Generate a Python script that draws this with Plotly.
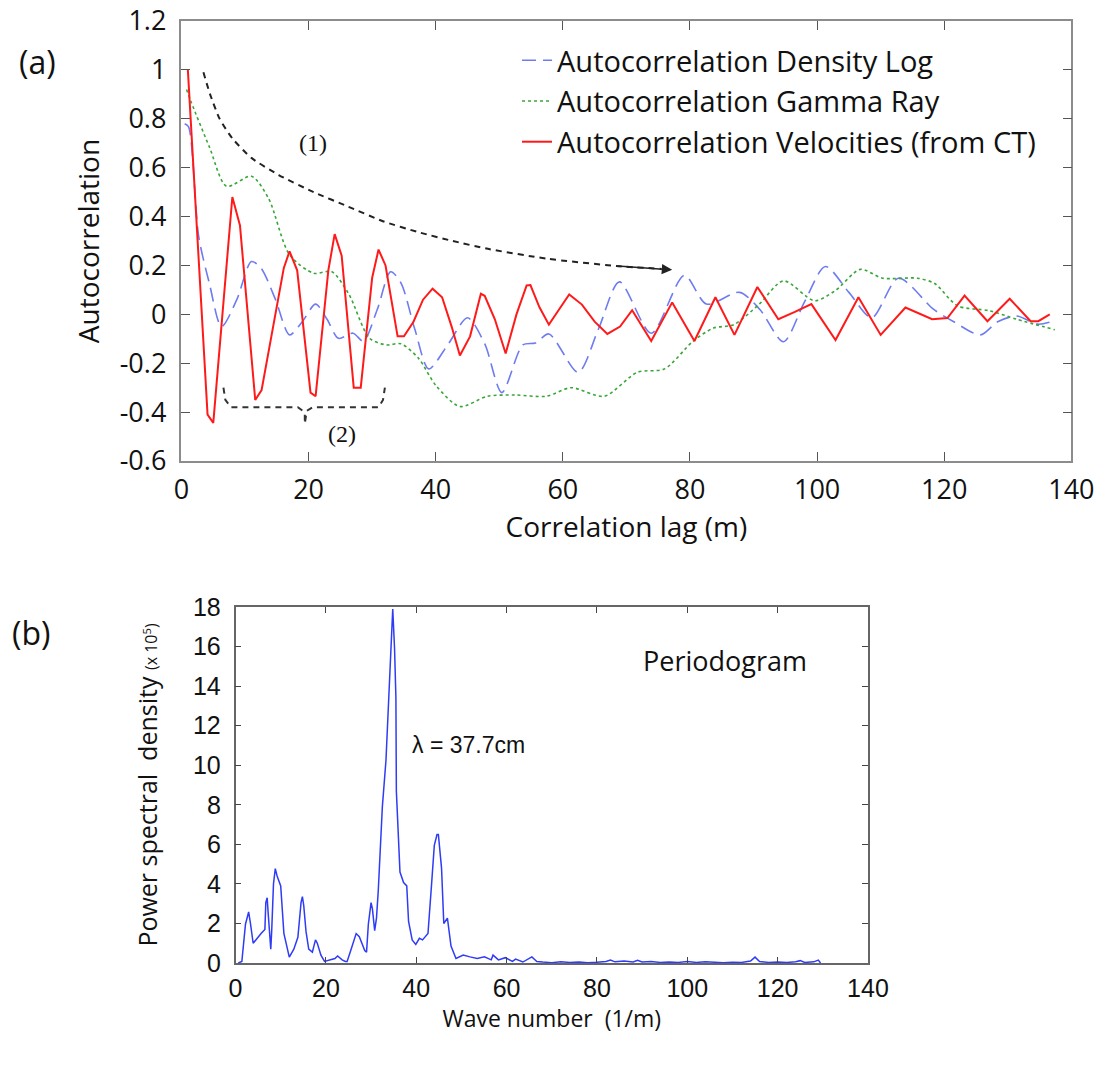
import plotly.graph_objects as go

# ---------------- (a) autocorrelation data ----------------
vel_x = [1.0, 4.1, 5.0, 8.0, 9.2, 11.6, 12.6, 16.1, 17.0, 18.2, 20.3, 21.1, 23.1, 24.1, 25.2,
         27.1, 28.2, 30.0, 31.0, 32.1, 34.0, 35.0, 36.5, 38.0, 39.5, 41.0, 42.5, 43.8, 45.4, 47.1,
         47.7, 49.3, 51.0, 52.7, 54.3, 54.9, 56.3, 57.8, 59.4, 61.0, 63.0, 65.0, 67.0, 69.0, 70.9,
         73.9, 77.2, 80.7, 84.0, 87.0, 90.6, 93.9, 96.5, 99.1, 102.9, 106.5, 110.0, 113.9, 118.1,
         120.5, 123.2, 126.8, 130.3, 133.6, 134.8, 136.6]
vel_y = [1.0, -0.41, -0.444, 0.48, 0.364, -0.35, -0.31, 0.19, 0.258, 0.18, -0.32, -0.335, 0.18,
         0.328, 0.24, -0.30, -0.30, 0.15, 0.265, 0.20, -0.09, -0.09, -0.03, 0.06, 0.105, 0.07,
         -0.05, -0.168, -0.09, 0.084, 0.076, -0.02, -0.16, 0.0, 0.118, 0.12, 0.03, -0.042, 0.02,
         0.081, 0.04, -0.03, -0.08, -0.05, 0.017, -0.109, 0.049, -0.109, 0.07, -0.084, 0.112,
         -0.02, 0.01, 0.042, -0.105, 0.07, -0.084, 0.028, -0.02, -0.015, 0.077, -0.028, 0.064,
         -0.028, -0.028, 0.0]

dens_x = [0.5, 1.1, 2.7, 4.4, 6.3, 8.7, 11.0, 12.5, 14.8, 17.0, 19.0, 21.1, 22.9, 24.7, 27.0,
          28.6, 30.8, 32.9, 34.5, 36.7, 38.9, 42.0, 45.0, 47.7, 50.4, 53.7, 55.7, 57.8, 62.4,
          65.6, 68.9, 73.9, 79.1, 82.6, 87.8, 91.0, 94.7, 98.0, 101.3, 105.0, 108.6, 112.8, 118.3,
          121.5, 125.7, 128.4, 131.4, 134.7, 136.9]
dens_y = [0.78, 0.768, 0.32, 0.125, -0.05, 0.06, 0.216, 0.19, 0.06, -0.084, -0.03, 0.042, -0.02,
          -0.098, -0.077, -0.11, 0.02, 0.174, 0.13, -0.06, -0.223, -0.12, -0.014, -0.12, -0.32,
          -0.125, -0.117, -0.08, -0.237, -0.06, 0.133, -0.077, 0.16, 0.042, 0.09, 0.02, -0.112,
          0.05, 0.196, 0.09, -0.014, 0.148, 0.021, -0.03, -0.084, -0.03, -0.007, -0.04, -0.03]

gamma_x = [0.8, 1.5, 4.4, 7.1, 11.0, 13.7, 17.0, 20.8, 23.6, 26.3, 29.6, 32.3, 34.5, 37.3, 40.0,
           43.8, 48.1, 52.6, 57.4, 61.3, 66.5, 71.7, 76.0, 80.4, 83.7, 86.9, 90.9, 94.7, 99.6,
           102.9, 106.8, 110.3, 115.8, 118.5, 122.1, 127.1, 131.4, 137.4]
gamma_y = [0.92, 0.87, 0.684, 0.524, 0.565, 0.474, 0.244, 0.168, 0.175, 0.084, -0.098, -0.125,
           -0.12, -0.18, -0.29, -0.377, -0.335, -0.33, -0.335, -0.30, -0.335, -0.237, -0.223,
           -0.112, -0.056, -0.042, 0.042, 0.137, 0.056, 0.098, 0.184, 0.148, 0.148, 0.126, 0.035,
           0.015, -0.02, -0.063]

# guide (1): decaying envelope arrow, guide (2): bracket
env_x = [3.45, 4.5, 6.0, 8.0, 11.0, 15.3, 20.8, 26.3, 31.8, 37.3, 42.7, 48.2, 57.4, 68.4, 75.5]
env_y = [0.99, 0.90, 0.80, 0.72, 0.64, 0.57, 0.50, 0.44, 0.38, 0.336, 0.30, 0.268, 0.228, 0.198, 0.186]
brk_x = [6.6, 6.9, 7.8, 18.3, 19.1, 19.4, 19.4, 19.7, 20.6, 31.0, 31.7, 32.0]
brk_y = [-0.30, -0.35, -0.38, -0.38, -0.395, -0.41, -0.447, -0.395, -0.38, -0.38, -0.35, -0.30]

# ---------------- (b) periodogram data ----------------
psd_x = [0.6, 1.4, 2.2, 2.9, 3.3, 3.9, 5.7, 6.5, 6.7, 7.0, 7.2, 7.6, 7.8, 8.0, 8.4, 8.8, 9.2, 10.0,
         10.3, 10.7, 11.9, 12.9, 13.8, 14.5, 14.8, 15.1, 15.6, 16.2, 17.0, 17.7, 18.1, 18.9, 19.7,
         20.8, 22.0, 22.6, 23.6, 24.3, 24.7, 25.5, 26.7, 27.4, 28.6, 29.0, 29.4, 30.0, 30.3, 30.8,
         31.2, 31.6, 32.1, 32.5, 33.3, 33.7, 34.1, 34.4, 34.8, 35.2, 35.5, 35.6, 36.0, 36.4, 37.2,
         37.9, 38.3, 39.1, 39.9, 40.7, 41.4, 42.6, 43.4, 44.0, 44.6, 44.9, 45.6, 46.1, 46.9, 47.7,
         48.8, 50.4, 51.9, 53.5, 55.1, 56.6, 57.0, 58.2, 59.7, 61.3, 62.0, 63.6, 65.6, 66.7, 68.0,
         70.0, 72.0, 74.0, 76.0, 78.0, 80.0, 82.0, 83.0, 84.0, 86.0, 88.0, 89.0, 90.0, 92.0, 94.0,
         96.0, 98.0, 100.0, 102.0, 104.0, 106.0, 108.0, 110.0, 112.0, 114.0, 115.0, 116.0, 118.0,
         120.0, 122.0, 124.0, 125.0, 126.0, 128.0, 129.0, 129.5]
psd_y = [0.0, 0.08, 1.96, 2.58, 2.0, 1.0, 1.5, 1.7, 3.05, 3.3, 2.6, 1.2, 0.7, 1.6, 4.0, 4.77, 4.4,
         3.9, 2.7, 1.5, 0.3, 0.7, 1.3, 3.05, 3.36, 2.9, 1.6, 0.7, 0.55, 1.17, 1.0, 0.4, 0.08, 0.16,
         0.23, 0.36, 0.16, 0.08, 0.08, 0.63, 1.49, 1.33, 0.63, 0.55, 1.96, 3.05, 2.74, 1.64, 2.27,
         3.68, 5.87, 7.9, 10.25, 12.3, 14.2, 16.0, 17.9, 15.9, 13.4, 8.7, 6.3, 4.6, 4.07, 3.9, 2.1,
         1.17, 0.94, 1.25, 1.17, 1.49, 4.0, 5.95, 6.5, 6.5, 4.8, 2.0, 2.27, 0.86, 0.23, 0.4, 0.31,
         0.23, 0.31, 0.16, 0.4, 0.16, 0.27, 0.08, 0.2, 0.05, 0.31, 0.08, 0.05, 0.02, 0.06, 0.03,
         0.05, 0.02, 0.04, 0.08, 0.15, 0.06, 0.10, 0.05, 0.14, 0.05, 0.08, 0.03, 0.05, 0.03, 0.08,
         0.03, 0.06, 0.03, 0.02, 0.04, 0.03, 0.10, 0.30, 0.08, 0.03, 0.05, 0.03, 0.06, 0.12, 0.03,
         0.06, 0.15, 0.0]

# tick values
a_xticks = [0, 20, 40, 60, 80, 100, 120, 140]
a_yticks = [-0.6, -0.4, -0.2, 0, 0.2, 0.4, 0.6, 0.8, 1, 1.2]
a_yticktext = ["-0.6", "-0.4", "-0.2", "0", "0.2", "0.4", "0.6", "0.8", "1", "1.2"]
b_xticks = [0, 20, 40, 60, 80, 100, 120, 140]
b_yticks = [0, 2, 4, 6, 8, 10, 12, 14, 16, 18]

SANS = "'Open Sans', Lato, sans-serif"
ARIAL = "'Liberation Sans', Arial, sans-serif"
TIMES = "'Liberation Serif', 'Times New Roman', serif"
INK = "#111111"

fig = go.Figure()

fig.add_trace(go.Scatter(x=dens_x, y=dens_y, mode="lines", name="Autocorrelation Density Log",
                         legendgroup="d",
                         line=dict(color="#6f7cf0", width=1.6, dash="14px,7px", shape="spline", smoothing=0.8),
                         xaxis="x", yaxis="y"))
fig.add_trace(go.Scatter(x=gamma_x, y=gamma_y, mode="lines", name="Autocorrelation Gamma Ray",
                         legendgroup="g",
                         line=dict(color="#3aa63a", width=1.6, dash="dot", shape="spline", smoothing=0.8),
                         xaxis="x", yaxis="y"))
fig.add_trace(go.Scatter(x=vel_x, y=vel_y, mode="lines", name="Autocorrelation Velocities (from CT)",
                         legendgroup="v",
                         line=dict(color="#ff1a1a", width=2.0),
                         xaxis="x", yaxis="y"))
fig.add_trace(go.Scatter(x=env_x, y=env_y, mode="lines", showlegend=False, hoverinfo="skip",
                         line=dict(color="#222222", width=2, dash="6px,5px", shape="spline", smoothing=0.6),
                         xaxis="x", yaxis="y"))
fig.add_trace(go.Scatter(x=brk_x, y=brk_y, mode="lines", showlegend=False, hoverinfo="skip",
                         line=dict(color="#333333", width=2, dash="6px,5px"),
                         xaxis="x", yaxis="y"))
fig.add_trace(go.Scatter(x=psd_x, y=psd_y, mode="lines", showlegend=False,
                         line=dict(color="#2f3cf5", width=1.5),
                         xaxis="x2", yaxis="y2"))

top_axis = dict(showline=True, linecolor="#8c8c8c", linewidth=1.5, mirror="allticks",
                ticks="inside", tickcolor="#555555", showgrid=False, zeroline=False, ticklen=9,
                ticklabeloverflow="allow")
bot_axis = dict(showline=True, linecolor="#666666", linewidth=1.5, mirror="allticks",
                ticks="inside", tickcolor="#444444", showgrid=False, zeroline=False, ticklen=6,
                ticklabeloverflow="allow")

fig.update_layout(
    width=1094, height=1066,
    margin=dict(l=0, r=0, t=0, b=0, autoexpand=False),
    paper_bgcolor="white", plot_bgcolor="white",
    showlegend=True,
    legend=dict(x=0.4726, y=0.9672, xanchor="left", yanchor="top", bgcolor="rgba(0,0,0,0)",
                font=dict(family=SANS, size=29, color=INK), tracegroupgap=2, traceorder="normal"),
    xaxis=dict(domain=[0.1659, 0.9793], range=[0, 140], tickvals=a_xticks, ticklabelstandoff=4,
               tickfont=dict(family=SANS, size=27, color=INK),
               title=dict(text="Correlation lag (m)", font=dict(family=SANS, size=28, color=INK), standoff=8),
               anchor="y", **top_axis),
    yaxis=dict(domain=[0.5675, 0.9803], range=[-0.6, 1.2], tickvals=a_yticks, ticktext=a_yticktext,
               ticklabelstandoff=8,
               tickfont=dict(family=SANS, size=27, color=INK),
               title=dict(text="Autocorrelation", font=dict(family=SANS, size=28, color=INK), standoff=12),
               anchor="x", **top_axis),
    xaxis2=dict(domain=[0.2153, 0.7934], range=[0, 140], tickvals=b_xticks, ticklabelstandoff=2,
                tickfont=dict(family=ARIAL, size=25, color=INK),
                title=dict(text="Wave number  (1/m)", font=dict(family=SANS, size=23, color=INK), standoff=4),
                anchor="y2", **bot_axis),
    yaxis2=dict(domain=[0.0966, 0.4306], range=[0, 18], tickvals=b_yticks, ticklabelstandoff=8,
                tickfont=dict(family=ARIAL, size=25, color=INK),
                title=dict(text="Power spectral  density <span style='font-size:16px'>(x 10<sup>5</sup>)</span>",
                           font=dict(family=SANS, size=25, color=INK), standoff=28),
                anchor="x2", **bot_axis),
)

annotations = [
    dict(text="(a)", x=0.034, y=0.942, xref="paper", yref="paper", showarrow=False,
         xanchor="center", yanchor="middle", font=dict(family=SANS, size=32, color=INK)),
    dict(text="(b)", x=0.028, y=0.407, xref="paper", yref="paper", showarrow=False,
         xanchor="center", yanchor="middle", font=dict(family=SANS, size=32, color=INK)),
    dict(text="(1)", x=20.7, y=0.70, xref="x", yref="y", showarrow=False,
         xanchor="center", yanchor="middle", font=dict(family=TIMES, size=24, color=INK)),
    dict(text="(2)", x=25.2, y=-0.49, xref="x", yref="y", showarrow=False,
         xanchor="center", yanchor="middle", font=dict(family=TIMES, size=24, color=INK)),
    dict(text="", x=77.2, y=0.182, ax=env_x[-2], ay=env_y[-2],
         xref="x", yref="y", axref="x", ayref="y", showarrow=True, arrowhead=2,
         arrowsize=1.3, arrowwidth=1.6, arrowcolor="#222222", standoff=0),
    dict(text="Periodogram", x=108.3, y=15.3, xref="x2", yref="y2", showarrow=False,
         xanchor="center", yanchor="middle", font=dict(family=SANS, size=27, color=INK)),
    dict(text="λ = 37.7cm", x=38.6, y=11.0, xref="x2", yref="y2", showarrow=False,
         xanchor="left", yanchor="middle", font=dict(family=ARIAL, size=23, color=INK)),
]
fig.update_layout(annotations=annotations)

fig.write_html("out.html")
